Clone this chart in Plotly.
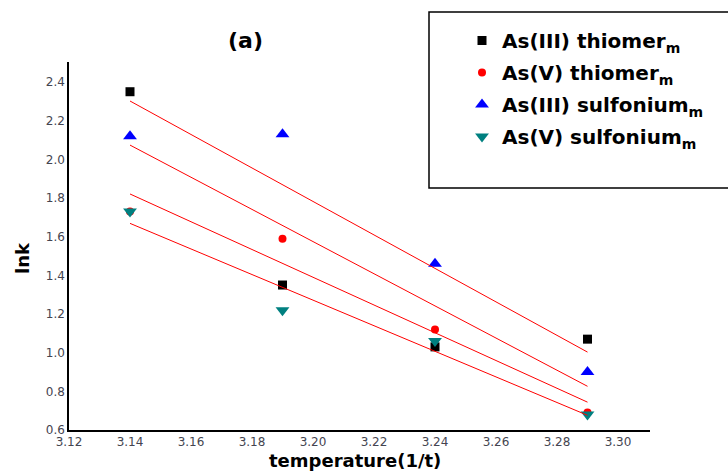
import numpy as np
import plotly.graph_objects as go

x_vals = [3.14, 3.19, 3.24, 3.29]
as3_thiomer = [2.35, 1.35, 1.03, 1.07]
as5_thiomer = [1.73, 1.59, 1.12, 0.69]
as3_sulfonium = [2.12, 2.13, 1.46, 0.90]
as5_sulfonium = [1.73, 1.22, 1.06, 0.68]

names = ["As(III) thiomer<sub>m</sub>", "As(V) thiomer<sub>m</sub>",
         "As(III) sulfonium<sub>m</sub>", "As(V) sulfonium<sub>m</sub>"]
series = [as3_thiomer, as5_thiomer, as3_sulfonium, as5_sulfonium]
symbols = ["square", "circle", "triangle-up", "triangle-down"]
colors = ["black", "red", "blue", "#008080"]
sizes = [9, 8, 12, 12]

x_ticks = [3.12, 3.14, 3.16, 3.18, 3.20, 3.22, 3.24, 3.26, 3.28, 3.30]
y_ticks = [0.6, 0.8, 1.0, 1.2, 1.4, 1.6, 1.8, 2.0, 2.2, 2.4]

fig = go.Figure()
for i, (nm, ys) in enumerate(zip(names, series)):
    fig.add_trace(go.Scatter(
        x=x_vals, y=ys, mode="markers", name=nm, legendgroup=str(i),
        marker=dict(symbol=symbols[i], color=colors[i], size=sizes[i], line=dict(width=0)),
    ))
xa = np.array(x_vals)
for ys in series:
    k, b = np.polyfit(xa, np.array(ys), 1)
    xl = np.array([x_vals[0], x_vals[-1]])
    fig.add_trace(go.Scatter(x=xl, y=k * xl + b, mode="lines", showlegend=False,
                             line=dict(color="red", width=1), hoverinfo="skip"))

W, H = 728, 472
L, R, T, B = 69, 78, 62, 42
pw, ph = W - L - R, H - T - B
x0 = 3.12
xscale = 3050.0
yscale = 193.3
FONT = "DejaVu Sans, Liberation Sans, sans-serif"
fig.update_layout(
    width=W, height=H, margin=dict(l=L, r=R, t=T, b=B, autoexpand=False),
    paper_bgcolor="white", plot_bgcolor="white",
    font=dict(family=FONT, color="black"),
    showlegend=True,
    legend=dict(
        xref="container", yref="container", x=462 / W, y=1 - 21 / H,
        xanchor="left", yanchor="top", bgcolor="rgba(0,0,0,0)", borderwidth=0,
        font=dict(size=20, weight="bold", color="black", family=FONT),
        traceorder="grouped", tracegroupgap=3,
    ),
    xaxis=dict(
        range=[x0, x0 + pw / xscale], tickvals=x_ticks,
        ticktext=[f"{v:.2f}" for v in x_ticks],
        showgrid=False, zeroline=False, showline=True, linecolor="black", linewidth=1.5,
        ticks="", tickfont=dict(size=12, color="#444450", family=FONT), ticklabelstandoff=0,
    ),
    yaxis=dict(
        range=[0.6, 0.6 + ph / yscale], tickvals=y_ticks,
        ticktext=[f"{v:.1f}" for v in y_ticks],
        showgrid=False, zeroline=False, showline=True, linecolor="black", linewidth=1.5,
        ticks="", tickfont=dict(size=12, color="#444450", family=FONT), ticklabelstandoff=0,
    ),
    shapes=[dict(type="rect", xref="paper", yref="paper",
                 x0=(429 - L) / pw, x1=(735 - L) / pw,
                 y0=(H - B - 188) / ph, y1=(H - B - 12) / ph,
                 line=dict(color="black", width=1.5), fillcolor="rgba(0,0,0,0)")],
    annotations=[
        dict(text="<b>(a)</b>", xref="paper", yref="paper", x=(245 - L) / pw,
             y=(H - B - 40) / ph, showarrow=False, font=dict(size=22, color="black"),
             xanchor="center", yanchor="middle"),
        dict(text="<b>lnk</b>", xref="paper", yref="paper", x=(22 - L) / pw,
             y=(H - B - 258) / ph, showarrow=False, textangle=-90,
             font=dict(size=18, color="black"), xanchor="center", yanchor="middle"),
        dict(text="<b>temperature(1/t)</b>", xref="paper", yref="paper", x=(355 - L) / pw,
             y=(H - B - 460) / ph, showarrow=False,
             font=dict(size=18, color="black"), xanchor="center", yanchor="middle"),
    ],
)
fig.write_html("out.html")
